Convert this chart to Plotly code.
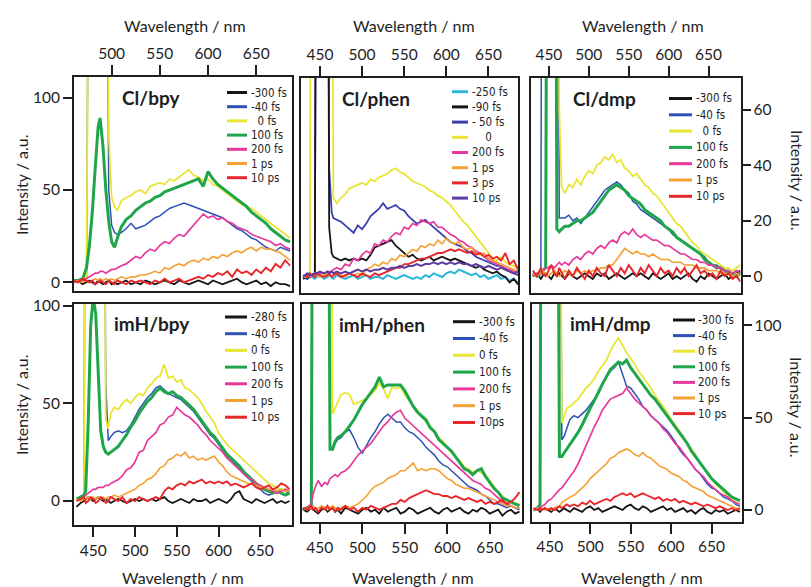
import plotly.graph_objects as go

FIG_W, FIG_H = 811, 587
INK = "#1e1e1e"
FONT = "Lato, 'Open Sans', sans-serif"
NARROW = "'Liberation Sans Narrow', 'DejaVu Sans Condensed', 'Arial Narrow', sans-serif"

# trace colours
C_BLACK = "#151515"
C_BLUE = "#2e52b4"
C_INDIGO = "#3a3fae"
C_YELLOW = "#e8e632"
C_GREEN = "#1fa64a"
C_PINK = "#e6399b"
C_ORANGE = "#f4a032"
C_RED = "#e8272b"
C_CYAN = "#2ab8da"
C_PURPLE = "#5b3c9f"

LINE_W = {C_BLACK: 1.8, C_BLUE: 1.5, C_INDIGO: 1.8, C_YELLOW: 1.8, C_GREEN: 3.0,
          C_PINK: 1.7, C_ORANGE: 1.6, C_RED: 1.9, C_CYAN: 2.0, C_PURPLE: 2.0}

# ---------------- Cl/bpy ----------------
wl_cl_bpy = [460, 465, 470, 474, 477, 480, 483, 486, 488, 491, 494, 497, 500, 503, 506,
             510, 515, 520, 525, 530, 535, 540, 545, 550, 555, 560, 565, 570, 575, 580,
             585, 590, 595, 600, 605, 610, 615, 620, 625, 630, 635, 640, 645, 650, 655,
             660, 665, 670, 675, 680, 685]
cl_bpy_m300fs = [0, 1, -1, 0, 1, 0, -1, 1, 0, -1, 0, 1, -1, 0, -1, 0, 1, -1, 0, -1,
                 1, 0, -1, 0, 1, 0, -1, 1, 0, -1, 0, 1, 0, -1, 1, 0, -1, 0, 1, 2,
                 0, -1, 0, 1, -1, 0, -2, 0, -1, -1, -2]
cl_bpy_m40fs = [1, 0, 1, 2, 300, 300, 300, 300, 300, 300, 300, 50, 31, 27, 26, 27, 29, 32, 29, 30,
                31, 33, 35, 36, 38, 40, 41, 42, 43, 42, 41, 40, 39, 38, 37, 36, 35, 33, 31, 29,
                28, 26, 24, 23, 21, 19, 18, 17, 19, 18, 17]
cl_bpy_0fs = [1, 0, 1, 3, 300, 300, 300, 300, 300, 300, 300, 80, 46, 41, 39, 44, 46, 47, 49, 50,
              48, 52, 53, 54, 53, 56, 55, 57, 59, 61, 58, 57, 55, 56, 53, 52, 50, 48, 46, 44,
              42, 41, 40, 38, 36, 34, 32, 30, 28, 26, 24]
cl_bpy_100fs = [1, 1, 2, 8, 20, 38, 62, 84, 89, 74, 50, 33, 22, 19, 24, 30, 34, 36, 39, 41,
                43, 44, 46, 47, 49, 50, 51, 52, 53, 54, 55, 56, 52, 60, 56, 53, 51, 49, 47, 45,
                43, 41, 38, 36, 34, 32, 29, 27, 25, 23, 22]
cl_bpy_200fs = [0, 1, 1, 2, 3, 4, 5, 5, 6, 6, 5, 6, 7, 7, 8, 9, 10, 12, 14, 13,
                16, 18, 17, 20, 22, 21, 24, 26, 25, 28, 31, 34, 37, 35, 36, 34, 35, 33, 32, 30,
                29, 28, 26, 25, 24, 23, 22, 20, 21, 19, 18]
cl_bpy_1ps = [0, 1, 0, 1, 0, 1, 2, 1, 2, 1, 2, 1, 2, 1, 2, 3, 2, 3, 3, 4,
              4, 5, 6, 5, 8, 7, 9, 10, 9, 11, 12, 11, 13, 12, 14, 13, 15, 14, 16, 17,
              16, 18, 19, 17, 19, 18, 18, 17, 16, 14, 12]
cl_bpy_10ps = [1, 0, 2, 1, 0, 1, -1, 0, 1, 0, -1, 1, 0, -1, 1, 0, -1, 1, 0, 1,
               0, -1, 1, 0, 2, 0, 1, 2, 0, 1, 2, 3, 2, 4, 3, 5, 4, 6, 3, 7,
               5, 6, 4, 7, 5, 8, 6, 10, 8, 12, 9]

# ---------------- Cl/phen ----------------
wl_cl_phen = [430, 435, 438, 440, 444, 446, 450, 455, 459, 461, 464, 466, 470, 475, 480,
              485, 490, 495, 500, 505, 510, 515, 520, 525, 530, 535, 540, 545, 550, 555,
              560, 565, 570, 575, 580, 585, 590, 595, 600, 605, 610, 615, 620, 625, 630,
              635, 640, 645, 650, 655, 660, 665, 670, 675, 680, 685]
cl_phen_m250fs = [1, 0, 2, 1, 0, 1, 2, 0, 1, 2, 1, 0, 2, 1, 0, 1, 2, 0, 1, 2,
                  0, 1, 1, 0, 2, 1, 0, 1, 2, 1, 0, 1, 0, 2, 1, 3, 2, 1, 3, 4,
                  3, 5, 4, 3, 2, 3, 1, 2, 0, 1, 2, 0, 1, -1, 0, -2]
cl_phen_m90fs = [0, 1, 1, 2, 3, 300, 300, 300, 300, 28, 14, 12, 11, 10, 11, 10, 11, 10, 11, 10,
                 13, 17, 18, 19, 20, 21, 18, 16, 14, 12, 13, 11, 10, 11, 12, 10, 11, 12, 11, 10,
                 11, 10, 9, 8, 7, 6, 7, 5, 4, 3, 4, 2, 1, -2, 0, -3]
cl_phen_m50fs = [1, 0, 1, 2, 3, 300, 300, 300, 300, 60, 36, 33, 32, 31, 29, 27, 25, 29, 27, 30,
                 34, 36, 38, 41, 38, 39, 40, 38, 37, 34, 32, 30, 31, 32, 30, 28, 26, 24, 22, 20,
                 19, 18, 17, 15, 14, 12, 11, 10, 9, 8, 7, 7, 5, 4, 3, 2]
cl_phen_0fs = [1, 1, 3, 300, 300, 300, 300, 300, 300, 300, 300, 44, 41, 44, 46, 49, 50, 51, 52, 51,
               54, 53, 55, 56, 57, 59, 60, 58, 57, 55, 53, 52, 51, 50, 48, 47, 45, 44, 42, 40,
               37, 34, 31, 29, 26, 23, 20, 17, 14, 11, 10, 12, 9, 8, 7, 6]
cl_phen_200fs = [1, 2, 1, 2, 3, 3, 3, 3, 4, 4, 4, 5, 6, 5, 8, 7, 11, 10, 13, 15,
                 14, 19, 18, 21, 20, 23, 25, 24, 28, 27, 30, 29, 32, 31, 30, 31, 28, 28, 26, 24,
                 23, 21, 20, 18, 17, 15, 14, 12, 10, 9, 8, 7, 6, 5, 4, 3]
cl_phen_1ps = [2, 1, 2, 1, 3, 2, 1, 2, 3, 2, 1, 2, 3, 2, 1, 3, 2, 3, 2, 5,
               6, 8, 7, 9, 8, 11, 10, 13, 12, 14, 16, 15, 18, 17, 19, 18, 21, 19, 22, 20,
               19, 20, 17, 16, 17, 14, 13, 14, 11, 10, 9, 8, 7, 6, 5, 4]
cl_phen_3ps = [2, 1, 3, 2, 1, 3, 2, 1, 2, 3, 1, 2, 3, 1, 2, 3, 2, 1, 3, 2,
               1, 3, 2, 3, 4, 5, 6, 6, 8, 8, 9, 10, 11, 11, 12, 13, 14, 14, 15, 16,
               15, 16, 15, 14, 15, 13, 14, 12, 13, 11, 12, 10, 14, 8, 10, 5]
cl_phen_10ps = [1, 3, 2, 2, 3, 3, 4, 3, 4, 3, 4, 3, 4, 3, 4, 3, 4, 5, 4, 5,
                4, 5, 5, 6, 5, 6, 6, 7, 6, 7, 7, 8, 7, 8, 8, 9, 8, 9, 8, 9,
                8, 9, 8, 8, 7, 8, 7, 6, 7, 6, 5, 6, 5, 4, 3, 4]

# ---------------- Cl/dmp ----------------
wl_cl_dmp = [430, 435, 440, 442, 446, 449, 453, 457, 460, 463, 466, 470, 475, 480, 485,
             490, 495, 500, 505, 510, 515, 520, 525, 530, 535, 540, 545, 550, 555, 560,
             565, 570, 575, 580, 585, 590, 595, 600, 605, 610, 615, 620, 625, 630, 635,
             640, 645, 650, 655, 660, 665, 670, 675, 680, 685, 690]
cl_dmp_m300fs = [0, 1, -1, 0, 1, 0, -1, 1, 0, 1, 0, -1, 1, 0, -1, 0, 1, 0, -1, 1,
                 0, 1, -1, 0, 1, 0, -1, 0, 1, 0, 1, 0, -1, 1, 0, -1, 0, 1, -1, 0,
                 -1, 0, 1, -1, -2, 0, -1, 1, 0, -1, 0, 1, -1, 0, 1, 2]
cl_dmp_m40fs = [1, 0, 2, 300, 300, 300, 300, 300, 300, 21, 21, 21, 22, 20, 21, 19, 21, 23, 25, 27,
                29, 31, 32, 33, 34, 33, 31, 30, 27, 26, 24, 23, 22, 21, 20, 19, 18, 17, 15, 14,
                13, 12, 11, 10, 9, 8, 7, 5, 4, 4, 3, 2, 2, 1, 2, 1]
cl_dmp_0fs = [1, 0, 2, 2, 3, 300, 300, 300, 300, 60, 32, 30, 33, 32, 35, 33, 36, 38, 37, 40,
              41, 43, 42, 44, 41, 42, 39, 38, 36, 37, 35, 33, 32, 30, 29, 27, 25, 23, 21, 19,
              18, 16, 14, 12, 11, 9, 8, 7, 6, 5, 4, 3, 3, 2, 3, 4]
cl_dmp_100fs = [1, 0, 1, 2, 3, 300, 300, 300, 17, 16, 17, 18, 18, 19, 20, 20, 21, 22, 23, 25,
                27, 29, 31, 32, 33, 32, 31, 29, 28, 27, 26, 24, 23, 22, 21, 20, 18, 17, 16, 14,
                13, 12, 11, 10, 9, 8, 6, 5, 4, 3, 3, 2, 1, 1, 0, 1]
cl_dmp_200fs = [0, 1, 1, 2, 3, 3, 4, 3, 4, 5, 4, 5, 4, 6, 7, 6, 8, 9, 8, 10,
                11, 10, 12, 13, 12, 15, 16, 15, 17, 15, 14, 15, 14, 13, 13, 12, 11, 11, 10, 9,
                8, 8, 7, 6, 6, 5, 5, 4, 4, 3, 3, 2, 2, 1, 2, 1]
cl_dmp_1ps = [1, 0, 1, 2, 1, 0, 1, 2, 1, 0, 1, 2, 1, 0, 2, 1, 2, 1, 2, 2,
              3, 3, 4, 4, 6, 8, 10, 9, 8, 9, 8, 8, 7, 8, 7, 6, 6, 6, 5, 5,
              5, 4, 4, 4, 3, 3, 3, 2, 2, 2, 1, 1, 1, 0, 1, 0]
cl_dmp_10ps = [2, 0, 3, 1, 0, 2, 4, 1, 0, 3, 1, -1, 2, 0, 3, 1, -1, 2, 0, 3,
               1, 0, 4, 2, 0, 3, 1, 4, 2, 0, 3, 1, 4, 2, 0, 3, 1, 2, 0, 3,
               1, 3, 0, 2, 4, 1, 2, 0, 1, -1, 2, 0, 1, -1, 0, -2]

# ---------------- imH/bpy ----------------
wl_imh_bpy = [430, 435, 439, 441, 444, 447, 450, 453, 456, 459, 462, 465, 468, 471, 475,
              480, 485, 490, 495, 500, 505, 510, 515, 520, 525, 530, 535, 540, 545, 550,
              555, 560, 565, 570, 575, 580, 585, 590, 595, 600, 605, 610, 615, 620, 625,
              630, 635, 640, 645, 650, 655, 660, 665, 670, 675, 680, 685]
imh_bpy_m280fs = [-3, -1, 0, 1, 2, 1, 0, 1, 2, 1, 0, 1, 0, -1, 0, 1, 0, -1, 0, 1,
                  0, 1, 0, 1, 0, 1, 2, 0, -1, 0, 1, 0, -1, 1, 0, 0, 1, -1, 0, 1,
                  0, -1, 1, 4, 5, 1, 0, -1, 1, 0, -1, 0, 1, -1, 0, -1, 0]
imh_bpy_m40fs = [1, 0, 2, 300, 300, 300, 300, 300, 300, 300, 300, 60, 31, 33, 35, 36, 35, 36, 39, 43,
                 47, 50, 53, 55, 58, 59, 57, 55, 54, 53, 52, 50, 48, 46, 43, 40, 37, 34, 32, 29,
                 26, 23, 21, 19, 17, 14, 12, 10, 8, 6, 4, 3, 4, 5, 6, 5, 4]
imh_bpy_0fs = [1, 0, 3, 300, 300, 300, 300, 300, 300, 300, 300, 42, 37, 45, 48, 47, 50, 52, 50, 53,
               55, 54, 58, 60, 63, 64, 70, 63, 64, 61, 62, 58, 57, 55, 53, 50, 46, 43, 40, 35,
               32, 29, 27, 25, 23, 21, 19, 17, 15, 13, 11, 9, 8, 7, 6, 6, 5]
imh_bpy_100fs = [1, 2, 3, 5, 40, 90, 104, 96, 62, 36, 28, 25, 24, 25, 26, 28, 31, 34, 38, 41,
                 45, 48, 51, 53, 56, 58, 56, 55, 56, 54, 53, 51, 49, 47, 44, 41, 38, 35, 33, 30,
                 27, 24, 22, 20, 18, 15, 13, 11, 9, 7, 6, 5, 4, 5, 4, 3, 4]
imh_bpy_200fs = [0, 1, 2, 3, 4, 5, 6, 6, 7, 7, 7, 8, 8, 9, 10, 11, 13, 16, 17, 20,
                 25, 26, 31, 33, 35, 39, 40, 43, 44, 48, 46, 44, 43, 41, 39, 36, 34, 31, 29, 27,
                 25, 22, 20, 18, 16, 14, 12, 11, 9, 8, 7, 6, 5, 4, 5, 6, 5]
imh_bpy_1ps = [1, 0, 1, 1, 2, 1, 2, 1, 2, 1, 2, 1, 2, 2, 3, 2, 3, 4, 5, 6,
               8, 9, 11, 12, 14, 17, 18, 21, 22, 24, 23, 25, 22, 23, 21, 22, 21, 22, 23, 20,
               18, 15, 13, 12, 11, 10, 9, 9, 8, 7, 7, 6, 6, 5, 6, 5, 5]
imh_bpy_10ps = [0, 1, 2, -1, 0, 2, 1, -1, 0, 2, 1, -1, 0, 2, 1, 0, 2, -1, 1, 0,
                2, 1, 0, 1, 2, 1, 5, 7, 6, 8, 9, 8, 10, 9, 10, 11, 9, 10, 9, 10,
                9, 10, 8, 9, 8, 7, 8, 9, 7, 6, 7, 8, 6, 7, 9, 8, 6]

# ---------------- imH/phen ----------------
wl_imh_phen = [430, 435, 440, 442, 445, 448, 452, 456, 459, 462, 465, 468, 471, 475, 480,
               485, 490, 495, 500, 505, 510, 515, 520, 525, 530, 535, 540, 545, 550, 555,
               560, 565, 570, 575, 580, 585, 590, 595, 600, 605, 610, 615, 620, 625, 630,
               635, 640, 645, 650, 655, 660, 665, 670, 675, 680, 685]
imh_phen_m300fs = [0, -1, 1, 0, -1, -2, 0, 1, -1, 0, 1, -1, 0, -2, 1, 0, -1, -2, 0, 1,
                   -1, 0, -2, 1, -1, 0, 1, -2, -1, 1, 0, -2, -1, 0, 1, -1, -2, 0, 1, -1,
                   0, 1, -1, -2, 0, -1, 1, 0, -2, -1, 0, -3, -1, 0, -2, -1]
imh_phen_m40fs = [0, 1, 2, 300, 300, 300, 300, 300, 300, 31, 32, 34, 36, 37, 40, 41, 37, 32, 29, 33,
                  37, 40, 44, 47, 49, 47, 45, 45, 42, 40, 39, 37, 35, 32, 30, 28, 25, 23, 22, 20,
                  18, 16, 14, 12, 11, 10, 8, 7, 5, 3, 3, 2, 1, 2, 1, 0]
imh_phen_0fs = [0, 1, 2, 300, 300, 300, 300, 300, 300, 300, 49, 52, 55, 59, 60, 59, 54, 55, 56, 57,
                59, 61, 65, 62, 57, 63, 62, 63, 59, 56, 53, 51, 48, 45, 43, 40, 37, 35, 32, 29,
                27, 25, 22, 21, 19, 20, 19, 18, 15, 12, 9, 7, 5, 4, 3, 3]
imh_phen_100fs = [0, 1, 2, 300, 300, 300, 300, 300, 300, 31, 31, 35, 37, 38, 40, 43, 46, 50, 54, 57,
                  60, 63, 68, 63, 64, 64, 64, 64, 61, 57, 53, 50, 48, 46, 42, 40, 36, 34, 32, 30,
                  27, 24, 21, 20, 18, 20, 21, 17, 14, 11, 9, 6, 5, 4, 3, 2]
imh_phen_200fs = [0, 1, 3, 8, 12, 15, 12, 14, 13, 16, 17, 18, 17, 19, 20, 22, 25, 28, 30, 32,
                  34, 37, 40, 43, 45, 48, 50, 51, 47, 45, 43, 41, 39, 37, 35, 33, 31, 29, 27, 25,
                  23, 21, 19, 17, 15, 14, 13, 11, 10, 8, 6, 4, 3, 2, 1, 1]
imh_phen_1ps = [1, 0, 1, 2, 0, 1, 2, 1, 0, 1, 2, 1, 0, 1, 2, 1, 2, 3, 5, 7,
                10, 12, 13, 14, 16, 17, 18, 20, 20, 22, 24, 20, 21, 20, 21, 21, 20, 18, 16, 15,
                13, 12, 11, 11, 10, 9, 8, 7, 6, 5, 4, 3, 2, 2, 1, 1]
imh_phen_10ps = [1, 0, 2, 0, 1, -1, 1, 0, 2, 0, 1, -1, 1, 0, 2, 0, 1, -1, 1, 0,
                 2, 1, 0, 1, 2, 3, 3, 5, 4, 6, 7, 8, 9, 10, 9, 8, 8, 7, 7, 6,
                 7, 6, 5, 6, 5, 4, 5, 3, 4, 3, 4, 5, 3, 4, 6, 9]

# ---------------- imH/dmp ----------------
wl_imh_dmp = [430, 435, 438, 440, 444, 448, 452, 456, 459, 462, 465, 468, 471, 475, 480,
              485, 490, 495, 500, 505, 510, 515, 520, 525, 530, 535, 540, 545, 550, 555,
              560, 565, 570, 575, 580, 585, 590, 595, 600, 605, 610, 615, 620, 625, 630,
              635, 640, 645, 650, 655, 660, 665, 670, 675, 680, 685]
imh_dmp_m300fs = [0, 1, -1, 0, 1, 0, -1, 1, 0, -1, 0, 1, 0, -1, 1, 0, -1, 1, 2, 0,
                  1, -1, 0, 1, 2, 1, 0, 2, 3, 1, 0, 2, 1, -1, 0, 1, 2, 0, 1, -1,
                  0, 1, -1, 0, -2, 0, 1, -1, -2, 0, -1, 0, -2, -1, 0, -1]
imh_dmp_m40fs = [0, 1, 2, 300, 300, 300, 300, 300, 300, 300, 38, 40, 44, 49, 51, 50, 52, 54, 57, 60,
                 63, 68, 72, 75, 77, 80, 74, 67, 66, 63, 60, 56, 54, 51, 49, 47, 45, 43, 40, 37,
                 33, 30, 28, 25, 22, 20, 17, 14, 12, 11, 9, 7, 6, 5, 3, 2]
imh_dmp_0fs = [0, 1, 2, 300, 300, 300, 300, 300, 300, 300, 47, 51, 55, 56, 58, 60, 63, 66, 68, 71,
               75, 78, 81, 86, 90, 93, 89, 85, 82, 79, 75, 72, 69, 66, 62, 59, 56, 53, 49, 46,
               43, 40, 36, 33, 30, 26, 23, 20, 17, 14, 12, 10, 7, 6, 4, 3]
imh_dmp_100fs = [0, 1, 3, 300, 300, 300, 300, 300, 300, 29, 29, 31, 33, 35, 39, 42, 46, 51, 55, 59,
                 64, 68, 72, 76, 78, 80, 79, 81, 77, 74, 71, 68, 65, 62, 60, 57, 54, 51, 48, 45,
                 42, 39, 36, 32, 29, 26, 23, 20, 17, 15, 13, 11, 9, 7, 6, 5]
imh_dmp_200fs = [0, 1, 1, 2, 3, 5, 6, 8, 10, 11, 12, 14, 16, 18, 21, 25, 30, 35, 40, 45,
                 49, 54, 57, 60, 61, 62, 63, 66, 63, 60, 58, 56, 54, 51, 49, 47, 44, 42, 39, 36,
                 34, 31, 28, 25, 22, 20, 18, 15, 13, 11, 9, 8, 7, 5, 4, 3]
imh_dmp_1ps = [0, 1, 0, 1, 0, 1, 0, 1, 2, 2, 4, 5, 6, 7, 8, 10, 12, 14, 17, 19,
               21, 23, 25, 28, 29, 31, 32, 33, 32, 30, 29, 31, 29, 28, 26, 24, 23, 22, 20, 19,
               18, 16, 15, 13, 12, 11, 10, 8, 7, 6, 5, 4, 3, 2, 1, 0]
imh_dmp_10ps = [1, 0, 1, 0, 1, 0, 1, 0, 1, 2, 1, 2, 3, 2, 3, 2, 4, 3, 5, 3,
                4, 5, 6, 5, 7, 8, 9, 8, 9, 7, 8, 9, 8, 7, 6, 7, 5, 6, 5, 6,
                4, 5, 4, 3, 4, 3, 2, 3, 2, 1, 2, 1, 0, 1, 0, 1]

# Panel layout in pixels: frame box (left, top, right, bottom), axis ranges, tick setup,
# title position and legend block (first row y, row step, swatch x0, swatch x1, text x).
panels = [
    dict(name="Cl/bpy", wl=wl_cl_bpy,
         series=[("-300 fs", cl_bpy_m300fs, C_BLACK), ("-40 fs", cl_bpy_m40fs, C_BLUE),
                 ("\u20070 fs", cl_bpy_0fs, C_YELLOW), ("100 fs", cl_bpy_100fs, C_GREEN),
                 ("200 fs", cl_bpy_200fs, C_PINK), ("1 ps", cl_bpy_1ps, C_ORANGE),
                 ("10 ps", cl_bpy_10ps, C_RED)],
         box=(74, 77, 292, 290.5), xr=(461, 687), yr=(-4.4, 111.2),
         xside="top", xticks=[500, 550, 600, 650], yside="left", yticks=[0, 50, 100],
         title=(120, 97), legend=(92.5, 14.2, 227, 247, 249)),
    dict(name="Cl/phen", wl=wl_cl_phen,
         series=[("-250 fs", cl_phen_m250fs, C_CYAN), ("- 50 fs", cl_phen_m50fs, C_INDIGO),
                 ("-90 fs", cl_phen_m90fs, C_BLACK), ("\u2007\u20070", cl_phen_0fs, C_YELLOW),
                 ("200 fs", cl_phen_200fs, C_PINK), ("1 ps", cl_phen_1ps, C_ORANGE),
                 ("3 ps", cl_phen_3ps, C_RED), ("10 ps", cl_phen_10ps, C_PURPLE)],
         legend_order=[0, 2, 1, 3, 4, 5, 6, 7],
         box=(300.5, 78, 518, 292.5), xr=(427, 685), yr=(-7.4, 109),
         xside="top", xticks=[450, 500, 550, 600, 650], yside=None, yticks=[],
         title=(340, 98), legend=(91.7, 15.2, 452, 468, 470)),
    dict(name="Cl/dmp", wl=wl_cl_dmp,
         series=[("-300 fs", cl_dmp_m300fs, C_BLACK), ("-40 fs", cl_dmp_m40fs, C_BLUE),
                 ("\u20070 fs", cl_dmp_0fs, C_YELLOW), ("100 fs", cl_dmp_100fs, C_GREEN),
                 ("200 fs", cl_dmp_200fs, C_PINK), ("1 ps", cl_dmp_1ps, C_ORANGE),
                 ("10 ps", cl_dmp_10ps, C_RED)],
         box=(530.5, 78, 740.5, 292.5), xr=(427, 690), yr=(-5.9, 71.5),
         xside="top", xticks=[450, 500, 550, 600, 650], yside="right", yticks=[0, 20, 40, 60],
         title=(571, 98), legend=(98.5, 16.3, 669, 692, 694)),
    dict(name="imH/bpy", wl=wl_imh_bpy,
         series=[("-280 fs", imh_bpy_m280fs, C_BLACK), ("-40 fs", imh_bpy_m40fs, C_BLUE),
                 ("0 fs", imh_bpy_0fs, C_YELLOW), ("100 fs", imh_bpy_100fs, C_GREEN),
                 ("200 fs", imh_bpy_200fs, C_PINK), ("1 ps", imh_bpy_1ps, C_ORANGE),
                 ("10 ps", imh_bpy_10ps, C_RED)],
         box=(74, 303.5, 292, 525), xr=(427, 688), yr=(-12.3, 101.2),
         xside="bottom", xticks=[450, 500, 550, 600, 650], yside="left", yticks=[0, 50, 100],
         title=(112, 323), legend=(317, 16.7, 225, 247, 249)),
    dict(name="imH/phen", wl=wl_imh_phen,
         series=[("-300 fs", imh_phen_m300fs, C_BLACK), ("-40 fs", imh_phen_m40fs, C_BLUE),
                 ("0 fs", imh_phen_0fs, C_YELLOW), ("100 fs", imh_phen_100fs, C_GREEN),
                 ("200 fs", imh_phen_200fs, C_PINK), ("1 ps", imh_phen_1ps, C_ORANGE),
                 ("10ps", imh_phen_10ps, C_RED)],
         box=(302, 304, 522, 522), xr=(429, 688), yr=(-6.3, 105.5),
         xside="bottom", xticks=[450, 500, 550, 600, 650], yside=None, yticks=[],
         title=(337, 324), legend=(321.7, 16.8, 453, 475, 477)),
    dict(name="imH/dmp", wl=wl_imh_dmp,
         series=[("-300 fs", imh_dmp_m300fs, C_BLACK), ("-40 fs", imh_dmp_m40fs, C_BLUE),
                 ("0 fs", imh_dmp_0fs, C_YELLOW), ("100 fs", imh_dmp_100fs, C_GREEN),
                 ("200 fs", imh_dmp_200fs, C_PINK), ("1 ps", imh_dmp_1ps, C_ORANGE),
                 ("10 ps", imh_dmp_10ps, C_RED)],
         box=(531.5, 304, 741.5, 521.5), xr=(427.5, 687), yr=(-6.2, 111.4),
         xside="bottom", xticks=[450, 500, 550, 600, 650], yside="right", yticks=[0, 50, 100],
         title=(568, 323), legend=(320, 15.6, 673, 695, 696)),
]


def px(x):
    return x / FIG_W


def py(y):
    return 1 - y / FIG_H


fig = go.Figure()
layout = dict(width=FIG_W, height=FIG_H, margin=dict(l=0, r=0, t=0, b=0),
              paper_bgcolor="white", plot_bgcolor="white", showlegend=False)
annotations = []
shapes = []

tick_font = dict(family=FONT, size=15.5, color=INK)

for i, p in enumerate(panels, start=1):
    xa = "x" if i == 1 else f"x{i}"
    ya = "y" if i == 1 else f"y{i}"
    for label, vals, col in p["series"]:
        fig.add_trace(go.Scatter(x=p["wl"], y=vals, mode="lines",
                                 line=dict(color=col, width=LINE_W[col]),
                                 xaxis=xa, yaxis=ya, showlegend=False, hoverinfo="skip"))
    left, top, right, bottom = p["box"]
    xax = dict(domain=[px(left), px(right)], range=list(p["xr"]), anchor=ya, side=p["xside"],
               tickvals=p["xticks"], ticks="outside", ticklen=10, tickwidth=1.5, tickcolor=INK,
               tickfont=tick_font, showline=True, linecolor=INK, linewidth=2, mirror=True,
               showgrid=False, zeroline=False, automargin=False)
    yax = dict(domain=[py(bottom), py(top)], range=list(p["yr"]), anchor=xa,
               showline=True, linecolor=INK, linewidth=2, mirror=True,
               showgrid=False, zeroline=False, automargin=False)
    if p["yside"]:
        yax.update(side=p["yside"], tickvals=p["yticks"], ticks="outside",
                   ticklen=9 if p["yside"] == "left" else 8, tickwidth=1.5, tickcolor=INK,
                   tickfont=tick_font)
    else:
        yax.update(ticks="", showticklabels=False)
    layout["xaxis" if i == 1 else f"xaxis{i}"] = xax
    layout["yaxis" if i == 1 else f"yaxis{i}"] = yax

    # panel label
    tx, ty = p["title"]
    annotations.append(dict(x=px(tx), y=py(ty), xref="paper", yref="paper", text=f"<b>{p['name']}</b>",
                            showarrow=False, xanchor="left", yanchor="middle",
                            font=dict(family=FONT, size=19, color=INK)))

    # per-panel key: coloured swatch + delay label
    y0, dy, sx0, sx1, lx = p["legend"]
    order = p.get("legend_order", list(range(len(p["series"]))))
    for row, k in enumerate(order):
        label, _, col = p["series"][k]
        yy = y0 + row * dy
        shapes.append(dict(type="line", xref="paper", yref="paper", x0=px(sx0), x1=px(sx1),
                           y0=py(yy), y1=py(yy), line=dict(color=col, width=3)))
        annotations.append(dict(x=px(lx), y=py(yy), xref="paper", yref="paper", text=label,
                                showarrow=False, xanchor="left", yanchor="middle",
                                font=dict(family=NARROW, size=11.5, color=INK)))

# axis titles
title_font = dict(family=FONT, size=16, color=INK)
for cx, cy in [(185, 25), (413.7, 25), (643, 25), (183, 577), (412.7, 577), (641.7, 577)]:
    annotations.append(dict(x=px(cx), y=py(cy), xref="paper", yref="paper", text="Wavelength / nm",
                            showarrow=False, xanchor="center", yanchor="middle", font=title_font))
for cx, cy in [(21, 185), (21, 405)]:
    annotations.append(dict(x=px(cx), y=py(cy), xref="paper", yref="paper", text="Intensity / a.u.",
                            showarrow=False, xanchor="center", yanchor="middle", textangle=-90,
                            font=title_font))
for cx, cy in [(798, 180), (797, 407)]:
    annotations.append(dict(x=px(cx), y=py(cy), xref="paper", yref="paper", text="Intensity / a.u.",
                            showarrow=False, xanchor="center", yanchor="middle", textangle=90,
                            font=title_font))

layout["annotations"] = annotations
layout["shapes"] = shapes
fig.update_layout(**layout)
fig.write_html("out.html")
